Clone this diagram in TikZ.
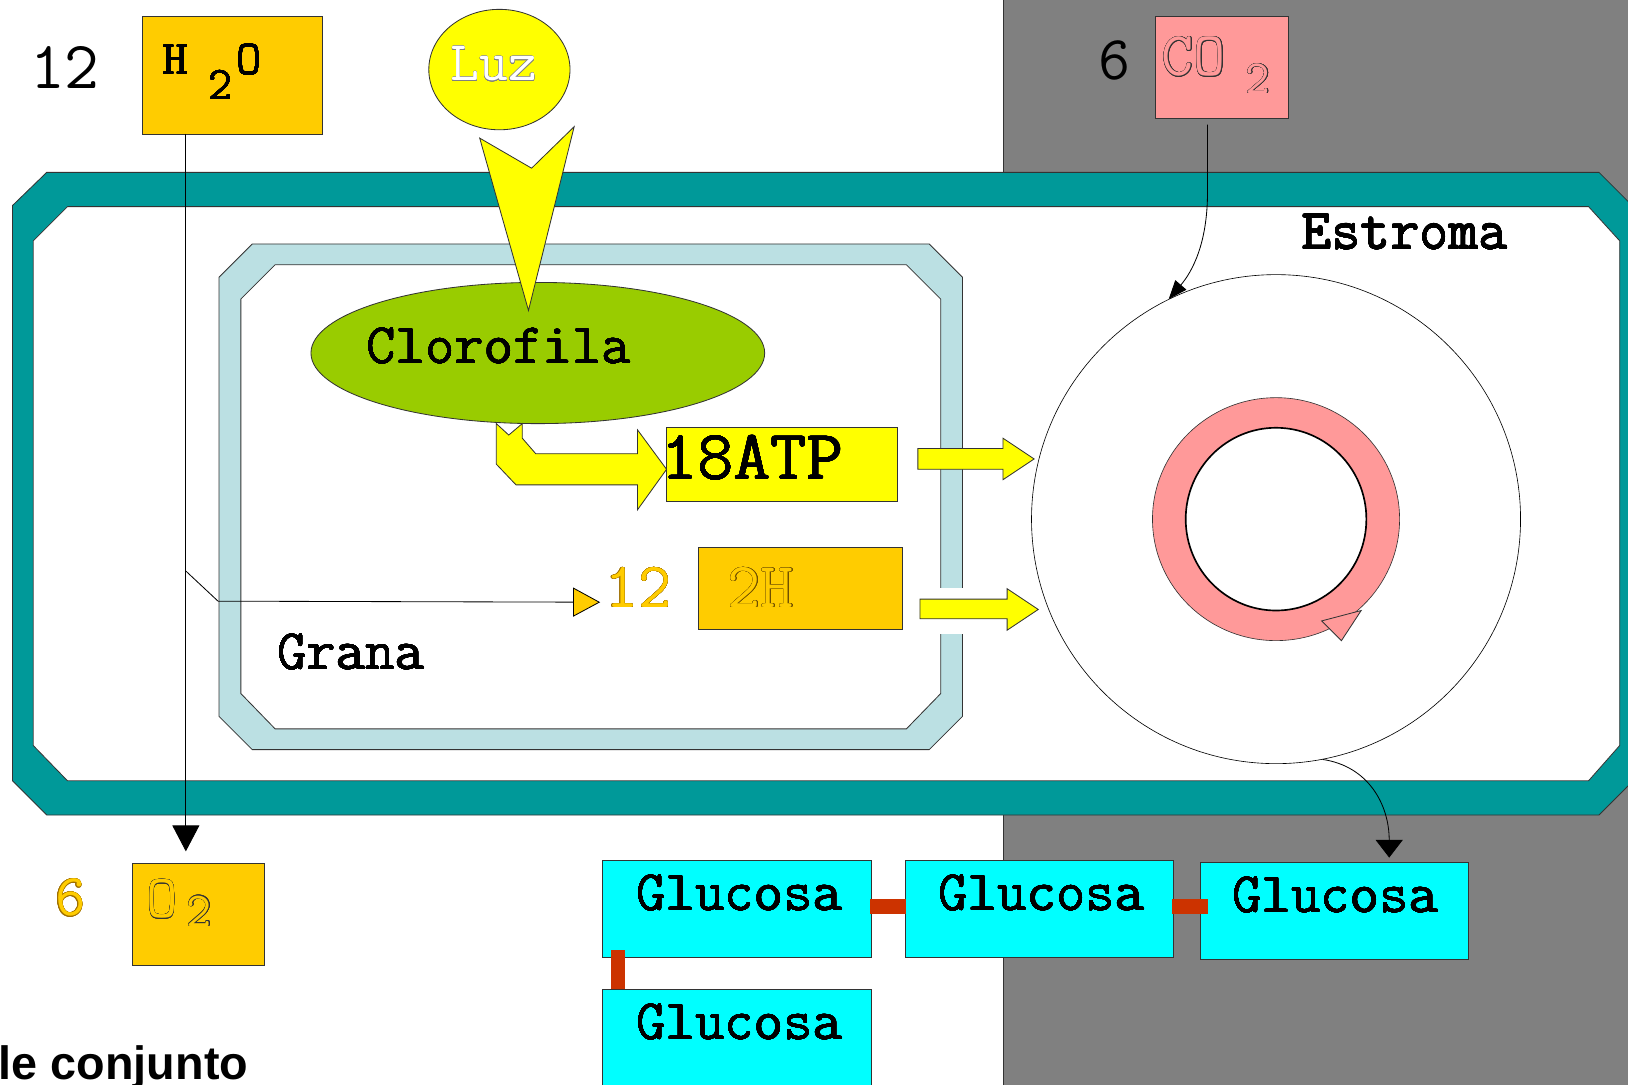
\documentclass[tikz,border=0pt]{standalone}
\usepackage{fontspec}
\usepackage[copies]{contour}
\usetikzlibrary{shapes.geometric,arrows.meta,calc}
\definecolor{cteal}{HTML}{009999}
\definecolor{clblue}{HTML}{BBE0E3}
\definecolor{cgold}{HTML}{FFCC00}
\definecolor{cyel}{HTML}{FFFF00}
\definecolor{cgreen}{HTML}{99CC00}
\definecolor{cpink}{HTML}{FF9999}
\definecolor{ccyan}{HTML}{00FFFF}
\definecolor{cbond}{HTML}{CC3300}
\definecolor{cgray}{HTML}{808080}
\definecolor{cline}{HTML}{333333}
\definecolor{cgoldline}{HTML}{A07000}
\definecolor{cbrown}{HTML}{705000}
\newfontfamily\lsans{Liberation Sans}
\newcommand\fsz[1]{\fontsize{#1}{#1}\selectfont}
\newcommand\olin[2]{{\contourlength{0.35pt}\contour{#1}{#2}}}
\newcommand\thk[1]{{\contourlength{0.2pt}\contour{black}{#1}}}
\tikzset{
  box/.style={draw=cline, line width=0.8pt, anchor=north west, inner sep=0pt, outer sep=0pt},
  txt/.style={anchor=base west, inner sep=0pt, outer sep=0pt},
  conn/.style={draw=black, line width=0.8pt},
  bond/.style={draw=cbond, line width=14pt},
  shapeline/.style={draw=cline, line width=0.8pt},
}
\begin{document}
\begin{tikzpicture}[x=1pt,y=-1pt]
\useasboundingbox (0,0) rectangle (1568,1045);
\clip (0,0) rectangle (1568,1045);
% background halves
\draw[cline, line width=0.8pt, fill=cgray] (966,-2) rectangle (1572,1049);
% outer membrane
\draw[shapeline, fill=cteal] (45,166) -- (1540,166) -- (1573,199) -- (1573,752) -- (1540,785) -- (45,785) -- (12,752) -- (12,198) -- cycle;
\draw[shapeline, fill=white] (65,199) -- (1530,199) -- (1560,232) -- (1560,718) -- (1530,752) -- (65,752) -- (32,718) -- (32,232) -- cycle;
% grana membrane
\draw[shapeline, fill=clblue] (243,235) -- (895,235) -- (927,267) -- (927,690) -- (895,722) -- (243,722) -- (211,690) -- (211,267) -- cycle;
\draw[shapeline, fill=white] (265,255) -- (873,255) -- (906,288) -- (906,668) -- (873,702) -- (265,702) -- (232,668) -- (232,288) -- cycle;
\fill[white] (905.4,566) rectangle (927.6,611);
% chlorophyll
\node[shapeline, fill=cgreen, ellipse, minimum width=437pt, minimum height=136pt, inner sep=0pt] (chl) at (518,340) {};
% light
\node[shapeline, fill=cyel, ellipse, minimum width=136pt, minimum height=116pt, inner sep=0pt] (luz) at (481,67) {};
\draw[shapeline, fill=cyel] (462,133) -- (512,162) -- (553,122) -- (509,299) -- cycle;
% bent arrow to ATP
\draw[shapeline, fill=cyel] (478,408) -- (490,419) -- (503,408) -- (503,422) -- (516,437) -- (614,437) -- (614,414) -- (642,452) -- (614,491) -- (614,467) -- (497,467) -- (478,447) -- cycle;
% ATP and 2H boxes
\node[box, fill=cyel, minimum width=222pt, minimum height=71pt] (atp) at (642,412) {};
\node[box, fill=cgold, minimum width=196pt, minimum height=79pt] (h2) at (673,527) {};
% block arrows to the cycle
\draw[shapeline, fill=cyel] (884,432) -- (966,432) -- (966,422) -- (996,442) -- (966,462) -- (966,452) -- (884,452) -- cycle;
\draw[shapeline, fill=cyel] (886,577) -- (970,577) -- (970,567) -- (1000,587) -- (970,607) -- (970,596) -- (886,596) -- cycle;
% Calvin cycle
\node[draw=black, line width=0.6pt, circle, minimum size=471pt, inner sep=0pt] (cyc) at (1229,500) {};
\fill[cpink, even odd rule] (1229,500) ellipse [x radius=119pt, y radius=117pt] (1229,500) ellipse [x radius=87pt, y radius=88pt];
\draw[cline, line width=0.6pt] (1229,500) ellipse [x radius=119pt, y radius=117pt];
\draw[black, line width=1.6pt] (1229,500) ellipse [x radius=87pt, y radius=88pt];
\draw[shapeline, fill=cpink] (1273,598) -- (1311,588) -- (1292,617) -- cycle;
% substance boxes
\node[box, fill=cgold, minimum width=174pt, minimum height=113pt] (h2o) at (137,16) {};
\node[box, fill=cpink, minimum width=128pt, minimum height=98pt] (co2) at (1113,16) {};
\node[box, fill=cgold, minimum width=127pt, minimum height=98pt] (o2) at (128,832) {};
\node[box, fill=ccyan, minimum width=259pt, minimum height=93pt] (g1) at (580,829) {};
\node[box, fill=ccyan, minimum width=258pt, minimum height=93pt] (g2) at (872,829) {};
\node[box, fill=ccyan, minimum width=258pt, minimum height=93pt] (g3) at (1156,831) {};
\node[box, fill=ccyan, minimum width=259pt, minimum height=100pt] (g4) at (580,953) {};
% bonds between glucose units
\draw[bond] ($(g1.east)+(-1,-2.5)$) -- ($(g2.west)+(1,-2.5)$);
\draw[bond] ($(g2.east)+(-1,-2.5)$) -- ($(g3.west)+(7,-4.5)$);
\draw[bond] ($(g1.south west)+(15,-7)$) -- ($(g4.north west)+(15,0)$);
% connectors
\coordinate (h2oout) at (179,129);
\coordinate (split) at (179,550);
\coordinate (bend) at (210,579);
\coordinate (hin) at (578,580);
\coordinate (co2out) at (1163,120);
\coordinate (co2bend) at (1163,185);
\coordinate (g3in) at (1338,826);
\draw[conn, -{Triangle[width=26pt,length=25pt]}, shorten >=12pt] (h2oout) -- (h2oout |- o2.north);
\draw[conn, -{Triangle[width=28pt,length=26pt,fill=cgold]}] (split) -- (bend) -- (hin);
\draw[conn, -{Triangle[width=14pt,length=18pt]}] (co2out) -- (co2bend) .. controls (1163,235) and (1148,262) .. (cyc.116);
\draw[conn, -{Triangle[width=26pt,length=17pt]}] (cyc.-79) .. controls (1318,738) and (1338,775) .. (g3in);
% texts
\node[txt, font=\ttfamily\fsz{65}] (n12) at (29,85) {12};
\node[txt, font=\ttfamily\fsz{47}] (th) at (157,72) {\thk{H}};
\node[txt, font=\ttfamily\fsz{45}] (th2) at (201,96) {\thk{2}};
\node[txt, font=\ttfamily\fsz{47}] (tho) at (228,72) {\thk{O}};
\node[txt, font=\ttfamily\fsz{54}, text=white] (tluz) at (434,78) {\olin{gray}{Luz}};
\node[txt, font=\ttfamily\fsz{60}] (n6a) at (1058,77) {6};
\node[txt, font=\ttfamily\fsz{60}, text=cpink] (tco) at (1119,73) {\olin{cline}{CO}};
\node[txt, font=\ttfamily\fsz{46}, text=cpink] (tco2) at (1200,90) {\olin{cline}{2}};
\node[txt, font=\ttfamily\fsz{55}] (tchl) at (353,350) {\thk{Clorofila}};
\node[txt, font=\ttfamily\fsz{68}] (tatp) at (637,462) {\thk{18ATP}};
\node[txt, font=\ttfamily\fsz{62}, text=cgold] (n12b) at (583,585) {\olin{cgoldline}{12}};
\node[txt, font=\ttfamily\fsz{62}, text=cgold] (t2h) at (701,585) {\olin{cbrown}{2H}};
\node[txt, font=\ttfamily\fsz{55}] (tgrana) at (267,645) {\thk{Grana}};
\node[txt, font=\ttfamily\fsz{55}] (testr) at (1254,240) {\thk{Estroma}};
\node[txt, font=\ttfamily\fsz{57}, text=cgold] (n6b) at (53,882) {\olin{cgoldline}{6}};
\node[txt, font=\ttfamily\fsz{59}, text=cgold] (to) at (141,884) {\olin{cline}{O}};
\node[txt, font=\ttfamily\fsz{47}, text=cgold] (to2) at (180,892) {\olin{cline}{2}};
\node[txt, font=\ttfamily\fsz{55}] (tg1) at (613,877) {\thk{Glucosa}};
\node[txt, font=\ttfamily\fsz{55}] (tg2) at (904,877) {\thk{Glucosa}};
\node[txt, font=\ttfamily\fsz{55}] (tg3) at (1187,879) {\thk{Glucosa}};
\node[txt, font=\ttfamily\fsz{55}] (tg4) at (613,1001) {\thk{Glucosa}};
\node[txt, font=\lsans\bfseries\fsz{45}] (tconj) at (-1,1040) {le conjunto};
\end{tikzpicture}
\end{document}
